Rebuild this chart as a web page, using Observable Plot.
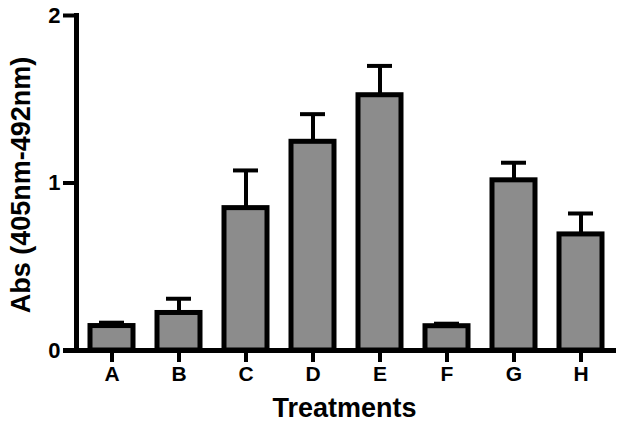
<!DOCTYPE html>
<html>
<head>
<meta charset="utf-8">
<script src="https://cdn.jsdelivr.net/npm/d3@7"></script>
<script src="https://cdn.jsdelivr.net/npm/@observablehq/plot@0.6"></script>
<style>
  body { margin: 0; background: #fff; }
</style>
</head>
<body>
<div id="chart"></div>
<script>
const categories = ["A", "B", "C", "D", "E", "F", "G", "H"];
const means = [0.146, 0.224, 0.85, 1.246, 1.524, 0.145, 1.016, 0.693];
const errors = [0.02, 0.085, 0.225, 0.165, 0.175, 0.015, 0.105, 0.125];
const yTicks = [0, 1, 2];
const yLabel = "Abs (405nm-492nm)";
const xLabel = "Treatments";

const data = categories.map((c, i) => ({cat: c, mean: means[i], err: errors[i]}));

const chart = Plot.plot({
  width: 624,
  height: 433,
  marginTop: 15,
  marginBottom: 83,
  marginLeft: 76,
  marginRight: 8,
  style: {fontFamily: "Liberation Sans, Arial, sans-serif", fontWeight: "bold", color: "#000", background: "#fff"},
  x: {domain: categories, paddingInner: 0.36, paddingOuter: 0.19},
  y: {domain: [0, 2]},
  marks: [
    Plot.ruleX(data, {x: "cat", y1: "mean", y2: d => d.mean + d.err, stroke: "#000", strokeWidth: 4}),
    Plot.tickY(data, {x: "cat", y: d => d.mean + d.err, stroke: "#000", strokeWidth: 4, insetLeft: 9, insetRight: 9}),
    Plot.barY(data, {x: "cat", y: "mean", fill: "#8c8c8c", stroke: "#000", strokeWidth: 5}),
    Plot.axisY({ticks: yTicks, tickFormat: d3.format("d"), tickSize: 13, tickPadding: 3, strokeWidth: 4, fontSize: 22, label: null}),
    Plot.axisX({tickSize: 12, tickPadding: 4, strokeWidth: 4, fontSize: 21, label: null}),
    Plot.text([yLabel], {text: d => d, frameAnchor: "left", textAnchor: "middle", rotate: -90, dx: -55, dy: 2, fontSize: 27, fontWeight: "bold"}),
    Plot.text([xLabel], {text: d => d, frameAnchor: "bottom", textAnchor: "middle", dy: 66, dx: -2, fontSize: 27, fontWeight: "bold"}),
    Plot.frame({anchor: "left", strokeWidth: 5, stroke: "#000"}),
    Plot.ruleY([0], {stroke: "#000", strokeWidth: 5, insetLeft: -13})
  ]
});
document.getElementById("chart").appendChild(chart);
</script>
</body>
</html>
